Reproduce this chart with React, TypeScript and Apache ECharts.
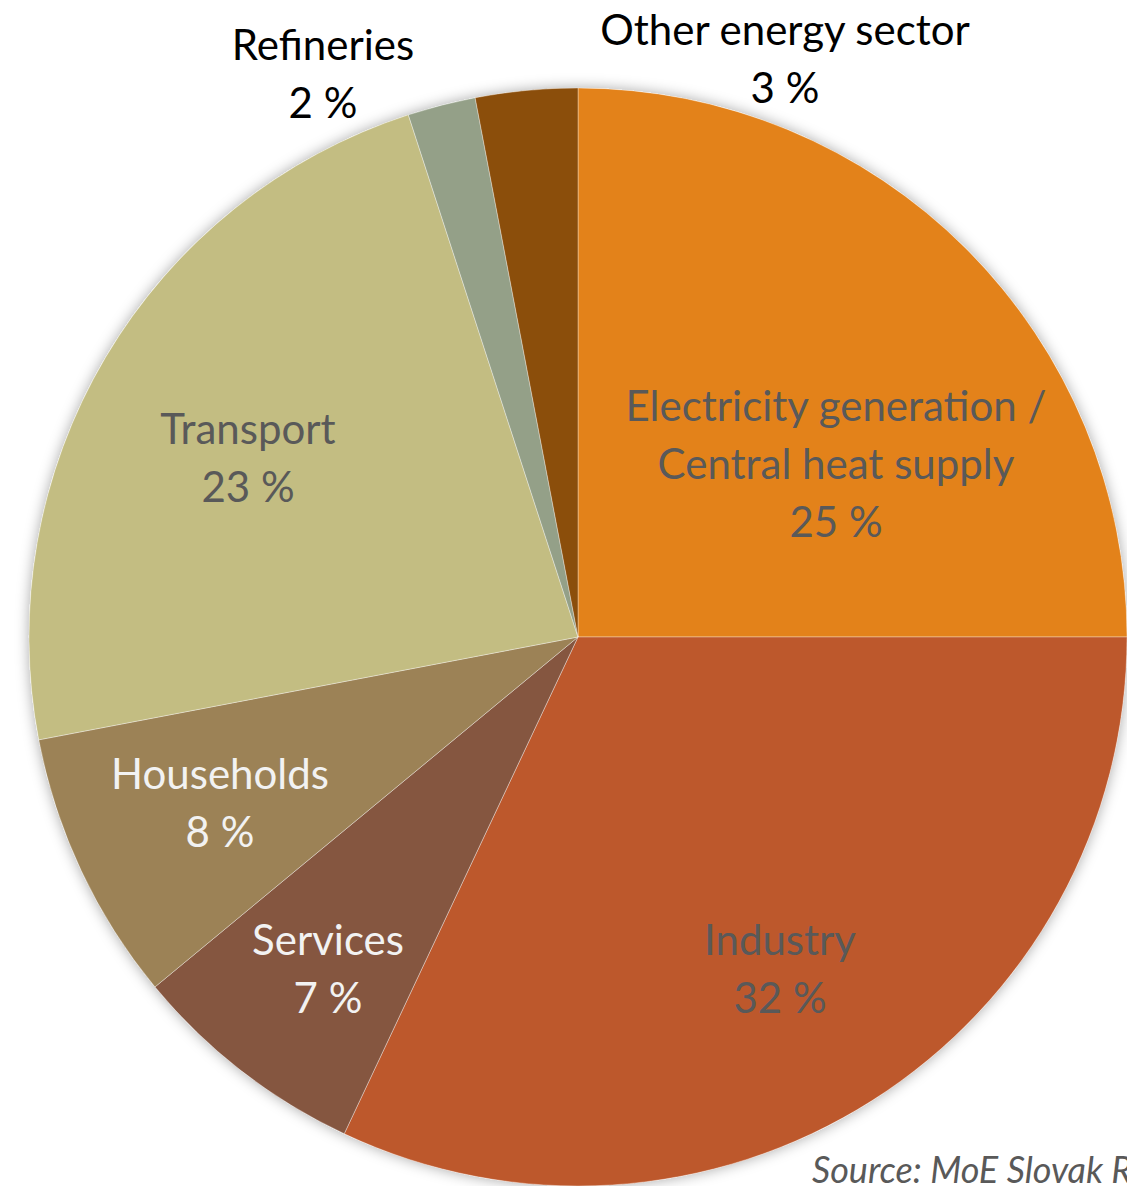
import React, { useEffect, useRef } from "react";
import * as echarts from "echarts";

const categories = [
  "Electricity generation /\nCentral heat supply",
  "Industry",
  "Services",
  "Households",
  "Transport",
  "Refineries",
  "Other energy sector",
];
const shares = [25, 32, 7, 8, 23, 2, 3];
const colors = ["#E3821A", "#BD582C", "#855640", "#9C8256", "#C3BD82", "#94A088", "#8B4E0B"];
const labelColors = ["#595959", "#595959", "#F2F2F2", "#F2F2F2", "#595959", "#000000", "#000000"];
const labelPos: [number, number][] = [
  [836, 463],
  [780, 968],
  [328, 968],
  [220, 802],
  [248, 457],
  [323, 73],
  [785, 58],
];
const sourceText = "Source: MoE Slovak Republic";

export default function App() {
  const ref = useRef<HTMLDivElement>(null);
  useEffect(() => {
    if (!ref.current) return;
    const chart = echarts.init(ref.current, null, { renderer: "svg" });
    const center = [578, 637];
    const radius = 549;
    chart.setOption({
      animation: false,
      backgroundColor: "#ffffff",
      graphic: [
        {
          type: "text",
          left: 812,
          top: 1151,
          style: {
            text: sourceText,
            font: "italic 36px Lato",
            fill: "#595959",
          },
        },
      ],
      series: [
        {
          type: "pie",
          silent: true,
          center,
          radius,
          z: 1,
          label: { show: false },
          labelLine: { show: false },
          itemStyle: {
            color: "#ffffff",
            shadowBlur: 14,
            shadowColor: "rgba(0,0,0,0.35)",
          },
          data: [{ value: 1, name: "bg" }],
        },
        {
          type: "pie",
          center,
          radius,
          z: 2,
          startAngle: 90,
          clockwise: true,
          itemStyle: { borderColor: "rgba(255,255,255,0.35)", borderWidth: 1 },
          labelLine: { show: false },
          label: {
            show: true,
            position: "inside",
            formatter: "{b}\n{c} %",
            fontFamily: "Lato",
            fontSize: 42,
            lineHeight: 58,
            align: "center",
          },
          labelLayout: (p: any) => ({
            x: labelPos[p.dataIndex][0],
            y: labelPos[p.dataIndex][1],
            align: "center",
            verticalAlign: "middle",
          }),
          data: categories.map((c, i) => ({
            name: c,
            value: shares[i],
            itemStyle: { color: colors[i] },
            label: { color: labelColors[i] },
          })),
        },
      ],
    });
    return () => chart.dispose();
  }, []);
  return (
    <div
      ref={ref}
      style={{ position: "absolute", left: 0, top: 0, width: 1127, height: 1186 }}
    />
  );
}
